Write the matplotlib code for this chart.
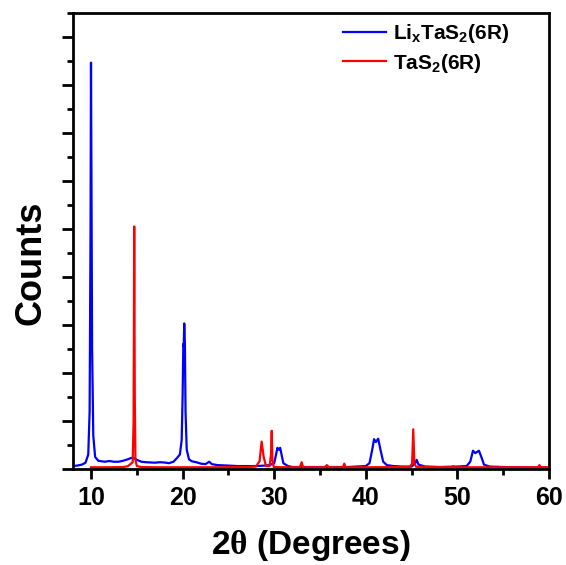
import matplotlib.pyplot as plt
from matplotlib.ticker import MultipleLocator, NullFormatter

plt.rcParams['font.family'] = ['Liberation Sans', 'DejaVu Sans']
plt.rcParams['font.weight'] = 'bold'
plt.rcParams['mathtext.fontset'] = 'custom'
plt.rcParams['mathtext.rm'] = 'Liberation Sans:bold'
plt.rcParams['mathtext.bf'] = 'Liberation Sans:bold'
plt.rcParams['mathtext.sf'] = 'Liberation Serif'

# LixTaS2(6R) pattern, points
li_x = [8.0, 8.5, 9.0, 9.4, 9.7, 9.85, 9.95, 10.0, 10.05, 10.12, 10.25, 10.45,
        10.8, 11.5, 12.0, 12.5, 13.0, 13.5, 14.0, 14.4, 14.7, 15.0, 15.5, 16.0,
        16.5, 17.0, 17.5, 18.0, 18.5, 19.0, 19.4, 19.7, 19.9, 20.0, 20.08, 20.12,
        20.18, 20.25, 20.32, 20.45, 20.7, 21.0, 21.5, 22.0, 22.5, 22.9, 23.2,
        23.8, 25.0, 26.0, 27.0, 28.0, 29.0, 29.5, 30.0, 30.2, 30.35, 30.5, 30.65,
        30.8, 31.0, 31.5, 32.0, 34.0, 36.0, 38.0, 39.0, 40.0, 40.4, 40.7, 40.9,
        41.1, 41.35, 41.6, 41.9, 42.3, 43.0, 44.0, 45.0, 45.4, 45.55, 45.75,
        46.5, 48.0, 50.0, 51.0, 51.4, 51.7, 51.95, 52.35, 52.65, 52.9, 53.5,
        55.0, 57.0, 60.0]
li_y = [60, 70, 90, 130, 300, 1200, 5000, 8460, 6000, 2500, 700, 250,
        170, 150, 165, 150, 150, 170, 200, 230, 225, 190, 150, 140,
        135, 130, 140, 135, 120, 150, 230, 300, 600, 1500, 2600, 2550,
        3030, 2600, 1200, 400, 200, 160, 140, 110, 100, 150, 100,
        80, 70, 60, 60, 60, 70, 80, 120, 300, 440, 400, 440,
        300, 120, 60, 40, 40, 40, 40, 50, 60, 120, 400, 620,
        560, 630, 400, 150, 80, 60, 50, 50, 120, 190, 90,
        50, 40, 50, 60, 150, 380, 330, 380, 230, 90, 50,
        40, 30, 30]

# TaS2(6R) pattern
ta_x = [10.0, 12.0, 13.5, 14.0, 14.3, 14.55, 14.65, 14.72, 14.78, 14.85, 15.0,
        15.5, 17.0, 20.0, 24.0, 27.0, 28.0, 28.4, 28.63, 28.85, 29.1, 29.5,
        29.65, 29.73, 29.8, 29.95, 31.0, 32.8, 33.0, 33.15, 35.5, 35.75, 35.95,
        37.5, 37.65, 37.8, 40.0, 44.8, 45.05, 45.18, 45.3, 45.5, 49.4, 49.55,
        49.7, 58.8, 58.95, 59.1, 60.0]
ta_y = [35, 35, 40, 55, 100, 140, 1000, 5050, 1500, 200, 60,
        40, 35, 35, 35, 40, 50, 160, 570, 250, 60, 60,
        300, 795, 200, 40, 35, 35, 140, 35, 35, 80, 35,
        35, 110, 35, 35, 40, 110, 825, 110, 45, 35, 60,
        35, 35, 80, 35, 35]

fig = plt.figure(figsize=(5.66, 5.65), dpi=100)
ax = fig.add_axes([0.1284, 0.170, 0.8416, 0.8075])

ax.plot(li_x, li_y, color='#0000ff', lw=1.6, label=r'Li$_\mathregular{x}$TaS$_\mathregular{2}$(6R)')
ax.plot(ta_x, ta_y, color='#ff0000', lw=1.6, label=r'TaS$_\mathregular{2}$(6R)')

ax.set_xlim(8, 60)
ax.set_ylim(0, 9500)
ax.xaxis.set_major_locator(MultipleLocator(10))
ax.xaxis.set_minor_locator(MultipleLocator(5))
ax.yaxis.set_major_locator(MultipleLocator(1000))
ax.yaxis.set_minor_locator(MultipleLocator(500))
ax.yaxis.set_major_formatter(NullFormatter())

for s in ax.spines.values():
    s.set_linewidth(2)
ax.tick_params(which='major', direction='out', length=8, width=2, labelsize=18)
ax.tick_params(which='minor', direction='out', length=4.5, width=2)
ax.tick_params(axis='x', which='major', length=7, pad=5)
ax.tick_params(axis='x', which='minor', length=4)

ax.set_xlabel(r'2$\mathsf{\theta}$ (Degrees)', fontsize=24, fontweight='bold', labelpad=13)
ax.set_ylabel('Counts', fontsize=26, fontweight='bold')
ax.yaxis.set_label_coords(-0.05, 0.451)

ax.legend(loc='upper left', bbox_to_anchor=(0.549, 0.997), frameon=False, borderaxespad=0,
          fontsize=15, handlelength=2.07, handletextpad=0.34, labelspacing=0.3)

fig.savefig('out.png', dpi=100)
